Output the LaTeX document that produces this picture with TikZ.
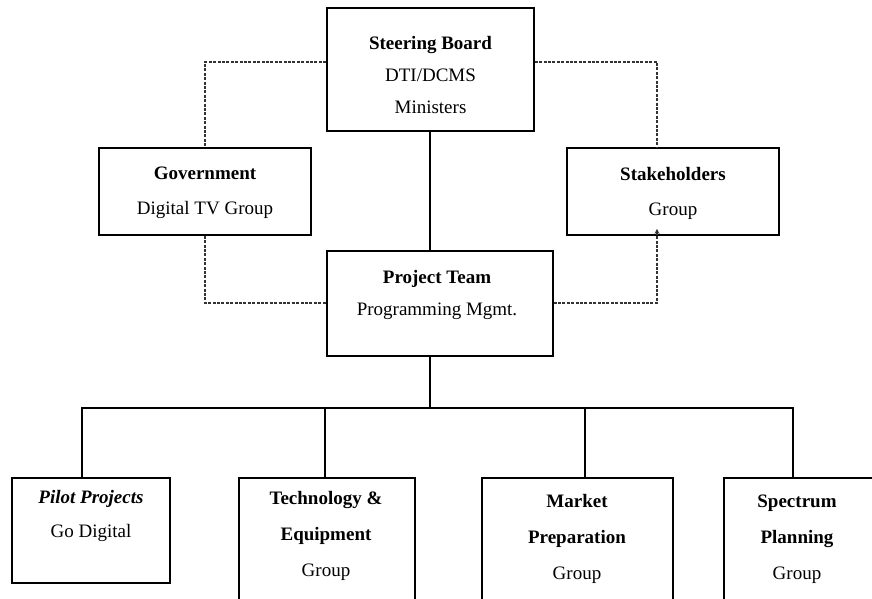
\documentclass[tikz,border=0pt]{standalone}
\usepackage{fontspec}
\setmainfont{Liberation Serif}
\usetikzlibrary{arrows.meta}
\begin{document}
\begin{tikzpicture}[x=1pt,y=-1pt,
  box/.style={draw, line width=1.6pt, inner sep=0pt},
  conn/.style={line width=1.9pt, line join=miter},
  dconn/.style={line width=1.1pt, dash pattern=on 3pt off 1.4pt, color=black!80},
  txt/.style={align=center, inner sep=0pt, font=\fontsize{19}{33}\selectfont},
  txtb/.style={txt, font=\fontsize{19}{36}\selectfont}]
\useasboundingbox (0,0) rectangle (872,598);
\clip (0,0) rectangle (872,598);
% boxes
\node[box, minimum width=207pt, minimum height=123pt] (steer) at (430.5,69.5) {};
\node[box, minimum width=212pt, minimum height=87pt] (gov) at (205,191.5) {};
\node[box, minimum width=212pt, minimum height=87pt] (stake) at (673,191.5) {};
\node[box, minimum width=226pt, minimum height=105pt] (proj) at (440,303.5) {};
\node[box, minimum width=158pt, minimum height=105pt] (pilot) at (91,530.5) {};
\node[box, minimum width=176pt, minimum height=122pt] (tech) at (327,539) {};
\node[box, minimum width=191pt, minimum height=122pt] (market) at (577.5,539) {};
\node[box, minimum width=150pt, minimum height=122pt] (spec) at (799,539) {};
% texts
\node[txt] (steerT) at (430.5,75) {\textbf{Steering Board}\\[-1pt]DTI/DCMS\\[-1pt]Ministers};
\node[txt] (govT) at (205,193) {\textbf{Government}\\[2pt]Digital TV Group};
\node[txt] (stakeT) at (673,193) {\textbf{Stakeholders}\\[2pt]Group};
\node[txt] (projT) at (437,295) {\textbf{Project Team}\\[-1pt]Programming Mgmt.};
\node[txt] (pilotT) at (91,516) {\textbf{\itshape Pilot Projects}\\[1pt]Go Digital};
\node[txtb] (techT) at (326,536) {\textbf{Technology \&}\\\textbf{Equipment}\\Group};
\node[txtb] (marketT) at (577,539) {\textbf{Market}\\\textbf{Preparation}\\Group};
\node[txtb] (specT) at (797,539) {\textbf{Spectrum}\\\textbf{Planning}\\Group};
% coordinates
\coordinate (dl) at (205,62);
\coordinate (dr) at (657,62);
\coordinate (dlb) at (205,303);
\coordinate (drb) at (657,303);
\coordinate (b1) at (82,408);
\coordinate (b2) at (325,408);
\coordinate (bc) at (430,408);
\coordinate (b3) at (585,408);
\coordinate (b4) at (793,408);
% solid connectors
\draw[conn] (steer.south -| bc) -- (proj.north -| bc);
\draw[conn] (proj.south -| bc) -- (bc);
\draw[conn] (b1 |- pilot.north) -- (b1) -- (b4) -- (b4 |- spec.north);
\draw[conn] (b2) -- (b2 |- tech.north);
\draw[conn] (b3) -- (b3 |- market.north);
% dashed connectors
\draw[dconn] (steer.west |- dl) -- (dl) -- (gov.north);
\draw[dconn] (steer.east |- dr) -- (dr) -- (dr |- stake.north);
\draw[dconn] (gov.south) -- (dlb) -- (proj.west |- dlb);
\draw[dconn, {Stealth[length=5pt,width=5pt]}-] ([yshift=7pt]drb |- stake.south) -- (drb) -- (proj.east |- drb);
\end{tikzpicture}
\end{document}
